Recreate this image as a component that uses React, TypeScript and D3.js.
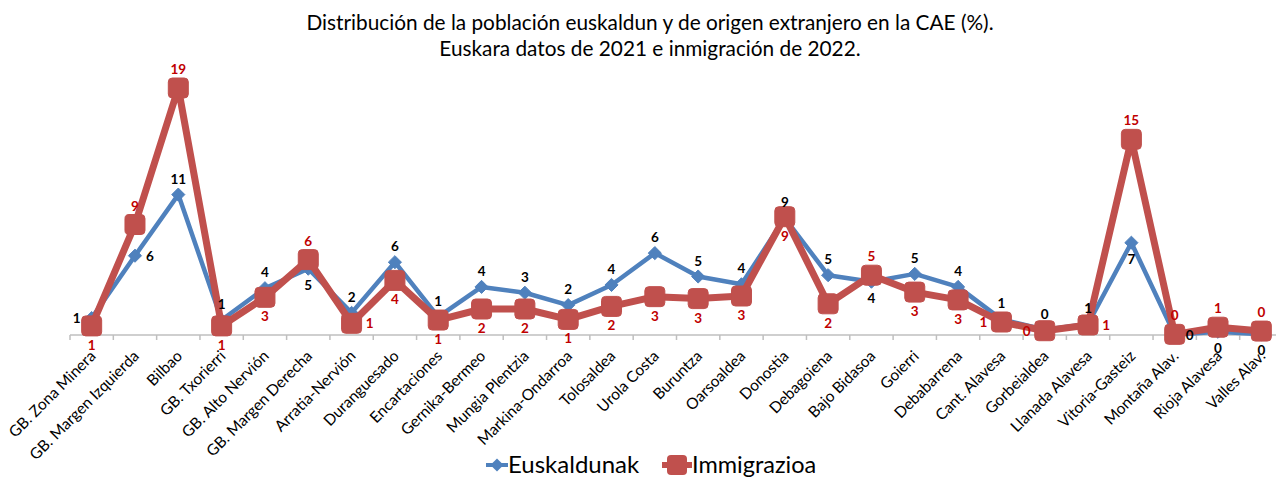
import React from "react";
import * as d3 from "d3";

const categories = [
  "GB. Zona Minera", "GB. Margen Izquierda", "Bilbao", "GB. Txorierri",
  "GB. Alto Nervión", "GB. Margen Derecha", "Arratia-Nervión", "Duranguesado",
  "Encartaciones", "Gernika-Bermeo", "Mungia Plentzia", "Markina-Ondarroa",
  "Tolosaldea", "Urola Costa", "Buruntza", "Oarsoaldea", "Donostia",
  "Debagoiena", "Bajo Bidasoa", "Goierri", "Debabarrena", "Cant. Alavesa",
  "Gorbeialdea", "Llanada Alavesa", "Vitoria-Gasteiz", "Montaña Alav.",
  "Rioja Alavesa", "Valles Alav.",
];

const euskaldunak = [
  1.3, 6.1, 10.8, 1.15, 3.6, 5.1, 1.7, 5.6, 1.4, 3.7, 3.25, 2.3, 3.85, 6.3,
  4.5, 3.9, 9.0, 4.6, 4.1, 4.7, 3.7, 1.2, 0.4, 0.85, 7.1, 0.02, 0.25, 0.05,
];

const immigrazioa = [
  0.7, 8.5, 19.0, 0.7, 2.9, 5.8, 0.9, 4.2, 1.15, 2.0, 2.0, 1.2, 2.2, 2.95,
  2.8, 3.0, 9.1, 2.4, 4.6, 3.3, 2.7, 1.0, 0.33, 0.77, 15.05, 0.05, 0.6, 0.3,
];

// label placement per point, like Excel's label position: t / b / l / r
const euskLabelPos = [
  "l", "r", "t", "t", "t", "b", "t", "t", "t", "t", "t", "t", "t", "t",
  "t", "t", "t", "t", "b", "t", "t", "t", "t", "t", "b", "r", "b", "b",
];
const immLabelPos = [
  "b", "t", "t", "b", "b", "t", "r", "b", "b", "b", "b", "b", "b", "b",
  "b", "b", "b", "b", "t", "b", "b", "l", "l", "r", "t", "t", "t", "t",
];

const titleLines = [
  "Distribución de la población euskaldun y de origen extranjero en la CAE (%).",
  "Euskara datos de 2021 e inmigración de 2022.",
];

const W = 1276;
const H = 477;
const FONT = "Lato, 'Open Sans', sans-serif";

const x = d3.scaleBand<string>().domain(categories).range([70, 1283]);
const y = d3.scaleLinear().domain([0, 20]).range([335, 75]);

const BLUE = "#4F81BD";
const RED = "#C0504D";
const RED_TEXT = "#C00000";

function labelXY(px: number, py: number, pos: string, gap: number) {
  if (pos === "t") return [px, py - gap];
  if (pos === "b") return [px, py + gap + 10];
  if (pos === "l") return [px - gap - 4, py + 5];
  return [px + gap + 4, py + 5];
}

export default function App() {
  const cx = (c: string) => (x(c) as number) + x.bandwidth() / 2;
  const line = d3
    .line<number>()
    .x((_, i) => cx(categories[i]))
    .y((d) => y(d));

  const diamond = d3.symbol().type(d3.symbolDiamond2).size(110)();
  const ticks = d3.range(categories.length + 1).map((i) => 70 + i * x.step());

  return (
    <svg
      width={W}
      height={H}
      style={{ position: "absolute", left: 0, top: 0, background: "#fff" }}
      fontFamily={FONT}
    >
      {titleLines.map((t, i) => (
        <text key={i} x={650} y={30 + i * 26} textAnchor="middle" fontSize={20.8} fill="#000">
          {t}
        </text>
      ))}

      <line x1={70} x2={W} y1={y(0)} y2={y(0)} stroke="#BFBFBF" strokeWidth={1.5} />
      {ticks.map((t, i) => (
        <line key={i} x1={t} x2={t} y1={y(0)} y2={y(0) + 5} stroke="#BFBFBF" strokeWidth={1.5} />
      ))}

      {categories.map((c) => (
        <text
          key={c}
          transform={`translate(${cx(c) + 5},${y(0) + 22}) rotate(-45)`}
          textAnchor="end"
          fontSize={15.5}
          fill="#000"
        >
          {c}
        </text>
      ))}

      <path d={line(euskaldunak) || ""} fill="none" stroke={BLUE} strokeWidth={4.5} strokeLinejoin="round" />
      {euskaldunak.map((v, i) => (
        <path key={i} d={diamond || ""} transform={`translate(${cx(categories[i])},${y(v)})`} fill={BLUE} stroke={BLUE} strokeWidth={1} />
      ))}

      <path d={line(immigrazioa) || ""} fill="none" stroke={RED} strokeWidth={7} strokeLinejoin="round" />
      {immigrazioa.map((v, i) => (
        <rect key={i} x={cx(categories[i]) - 10} y={y(v) - 10} width={20} height={20} rx={4} fill={RED} stroke={RED} strokeWidth={1} />
      ))}

      {euskaldunak.map((v, i) => {
        const [lx, ly] = labelXY(cx(categories[i]), y(v), euskLabelPos[i], 11);
        return (
          <text key={i} x={lx} y={ly} textAnchor="middle" fontSize={13.5} fontWeight="bold" fill="#000">
            {Math.round(v)}
          </text>
        );
      })}
      {immigrazioa.map((v, i) => {
        const [lx, ly] = labelXY(cx(categories[i]), y(v), immLabelPos[i], 14);
        return (
          <text key={i} x={lx} y={ly} textAnchor="middle" fontSize={13.5} fontWeight="bold" fill={RED_TEXT}>
            {Math.round(v)}
          </text>
        );
      })}

      <g transform="translate(486,465)">
        <line x1={0} x2={22} y1={0} y2={0} stroke={BLUE} strokeWidth={4} />
        <path d={diamond || ""} transform="translate(11,0)" fill={BLUE} />
        <text x={22} y={8} fontSize={24} fill="#000">Euskaldunak</text>
      </g>
      <g transform="translate(662,465)">
        <line x1={0} x2={30} y1={0} y2={0} stroke={RED} strokeWidth={6} />
        <rect x={5} y={-10} width={20} height={20} rx={4} fill={RED} />
        <text x={30} y={8} fontSize={23.5} fill="#000">Immigrazioa</text>
      </g>
    </svg>
  );
}
